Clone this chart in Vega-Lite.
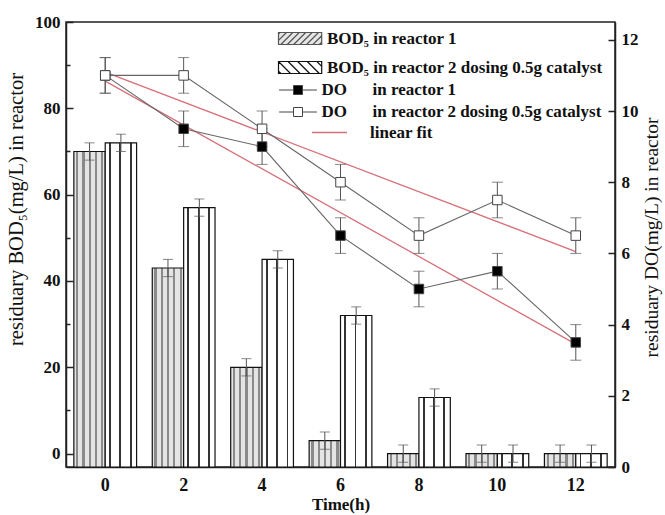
{
  "$schema": "https://vega.github.io/schema/vega-lite/v6.json",
  "width": 549,
  "height": 445,
  "autosize": "none",
  "padding": {"left": 66, "top": 22, "right": 50, "bottom": 48},
  "background": "white",
  "config": {
    "font": "Liberation Serif",
    "view": {"stroke": "#222", "strokeWidth": 1.5},
    "axis": {"labelFont": "Liberation Serif", "labelFontWeight": "bold", "labelFontSize": 17, "labelColor": "#111", "titleFont": "Liberation Serif", "titleFontSize": 17, "titleFontWeight": "normal", "titleColor": "#111", "domainColor": "#222", "domainWidth": 1.5, "tickColor": "#222", "tickWidth": 1.5, "grid": false},
    "legend": {"labelFont": "Liberation Serif", "labelFontSize": 17, "labelFontWeight": "bold", "labelColor": "#111", "padding": 0, "titlePadding": 0, "labelLimit": 400}
  },
  "datasets": {
    "bod": [
      {"t": 0, "s": "BOD₅ in reactor 1", "v": 70, "lo": 68, "hi": 72},
      {"t": 0, "s": "BOD₅ in reactor 2 dosing 0.5g catalyst", "v": 72, "lo": 70, "hi": 74},
      {"t": 2, "s": "BOD₅ in reactor 1", "v": 43, "lo": 41, "hi": 45},
      {"t": 2, "s": "BOD₅ in reactor 2 dosing 0.5g catalyst", "v": 57, "lo": 55, "hi": 59},
      {"t": 4, "s": "BOD₅ in reactor 1", "v": 20, "lo": 18, "hi": 22},
      {"t": 4, "s": "BOD₅ in reactor 2 dosing 0.5g catalyst", "v": 45, "lo": 43, "hi": 47},
      {"t": 6, "s": "BOD₅ in reactor 1", "v": 3, "lo": 1, "hi": 5},
      {"t": 6, "s": "BOD₅ in reactor 2 dosing 0.5g catalyst", "v": 32, "lo": 30, "hi": 34},
      {"t": 8, "s": "BOD₅ in reactor 1", "v": 0, "lo": -2, "hi": 2},
      {"t": 8, "s": "BOD₅ in reactor 2 dosing 0.5g catalyst", "v": 13, "lo": 11, "hi": 15},
      {"t": 10, "s": "BOD₅ in reactor 1", "v": 0, "lo": -2, "hi": 2},
      {"t": 10, "s": "BOD₅ in reactor 2 dosing 0.5g catalyst", "v": 0, "lo": -2, "hi": 2},
      {"t": 12, "s": "BOD₅ in reactor 1", "v": 0, "lo": -2, "hi": 2},
      {"t": 12, "s": "BOD₅ in reactor 2 dosing 0.5g catalyst", "v": 0, "lo": -2, "hi": 2}
    ],
    "do": [
      {"t": 0, "s": "DO\u00a0\u00a0\u00a0\u00a0\u00a0\u00a0in reactor 1", "d": 11, "lo": 10.5, "hi": 11.5},
      {"t": 2, "s": "DO\u00a0\u00a0\u00a0\u00a0\u00a0\u00a0in reactor 1", "d": 9.5, "lo": 9, "hi": 10},
      {"t": 4, "s": "DO\u00a0\u00a0\u00a0\u00a0\u00a0\u00a0in reactor 1", "d": 9, "lo": 8.5, "hi": 9.5},
      {"t": 6, "s": "DO\u00a0\u00a0\u00a0\u00a0\u00a0\u00a0in reactor 1", "d": 6.5, "lo": 6, "hi": 7},
      {"t": 8, "s": "DO\u00a0\u00a0\u00a0\u00a0\u00a0\u00a0in reactor 1", "d": 5, "lo": 4.5, "hi": 5.5},
      {"t": 10, "s": "DO\u00a0\u00a0\u00a0\u00a0\u00a0\u00a0in reactor 1", "d": 5.5, "lo": 5, "hi": 6},
      {"t": 12, "s": "DO\u00a0\u00a0\u00a0\u00a0\u00a0\u00a0in reactor 1", "d": 3.5, "lo": 3, "hi": 4},
      {"t": 0, "s": "DO\u00a0\u00a0\u00a0\u00a0\u00a0\u00a0in reactor 2 dosing 0.5g catalyst", "d": 11, "lo": 10.5, "hi": 11.5},
      {"t": 2, "s": "DO\u00a0\u00a0\u00a0\u00a0\u00a0\u00a0in reactor 2 dosing 0.5g catalyst", "d": 11, "lo": 10.5, "hi": 11.5},
      {"t": 4, "s": "DO\u00a0\u00a0\u00a0\u00a0\u00a0\u00a0in reactor 2 dosing 0.5g catalyst", "d": 9.5, "lo": 9, "hi": 10},
      {"t": 6, "s": "DO\u00a0\u00a0\u00a0\u00a0\u00a0\u00a0in reactor 2 dosing 0.5g catalyst", "d": 8, "lo": 7.5, "hi": 8.5},
      {"t": 8, "s": "DO\u00a0\u00a0\u00a0\u00a0\u00a0\u00a0in reactor 2 dosing 0.5g catalyst", "d": 6.5, "lo": 6, "hi": 7},
      {"t": 10, "s": "DO\u00a0\u00a0\u00a0\u00a0\u00a0\u00a0in reactor 2 dosing 0.5g catalyst", "d": 7.5, "lo": 7, "hi": 8},
      {"t": 12, "s": "DO\u00a0\u00a0\u00a0\u00a0\u00a0\u00a0in reactor 2 dosing 0.5g catalyst", "d": 6.5, "lo": 6, "hi": 7}
    ],
    "fit": [
      {"t": 0, "s": "r1", "f": 10.84, "k": "linear fit"},
      {"t": 12, "s": "r1", "f": 3.45, "k": "linear fit"},
      {"t": 0, "s": "r2", "f": 11.09, "k": "linear fit"},
      {"t": 12, "s": "r2", "f": 6.05, "k": "linear fit"}
    ]
  },
  "encoding": {
    "x": {
      "field": "t", "type": "ordinal",
      "scale": {"type": "band", "domain": [0, 2, 4, 6, 8, 10, 12], "paddingInner": 0.2, "paddingOuter": 0.1},
      "axis": {"orient": "bottom", "labelAngle": 0, "ticks": false, "labelPadding": 9, "labelFontSize": 18, "title": "Time(h)", "titleFontWeight": "bold", "titleFontSize": 17, "titlePadding": 2}
    }
  },
  "layer": [
    {
      "data": {"name": "bod"},
      "layer": [
        {
          "mark": {"type": "bar", "stroke": "#111", "strokeWidth": 1.2},
          "encoding": {
            "y": {
              "field": "v", "type": "quantitative",
              "scale": {"domain": [-3.1, 100], "nice": false, "zero": false},
              "axis": {
                "orient": "left",
                "values": [0, 10, 20, 30, 40, 50, 60, 70, 80, 90, 100],
                "labelExpr": "datum.value % 20 === 0 ? datum.label : ''",
                "tickSize": {"condition": {"test": "datum.value % 20 === 0", "value": -7}, "value": -4},
                "labelPadding": 13,
                "title": "residuary BOD₅(mg/L) in reactor",
                "titleFontSize": 20.5,
                "titleBaseline": "alphabetic",
                "titleX": -44,
                "titleY": 187
              }
            },
            "y2": {"datum": -3.1},
            "xOffset": {"field": "s", "type": "nominal", "scale": {"domain": ["BOD₅ in reactor 1", "BOD₅ in reactor 2 dosing 0.5g catalyst"], "paddingInner": 0, "paddingOuter": 0}},
            "fill": {
              "field": "s", "type": "nominal",
              "condition": [
                {"test": "datum.s === 'BOD₅ in reactor 1'", "value": {"gradient": "linear", "x1": 0, "y1": 0, "x2": 1, "y2": 0, "stops": [
                    {"offset": 0, "color": "#e4e4e4"}, {"offset": 0.07, "color": "#e4e4e4"},
                    {"offset": 0.07, "color": "#8a8a8a"}, {"offset": 0.14, "color": "#8a8a8a"},
                    {"offset": 0.14, "color": "#e4e4e4"}, {"offset": 0.27, "color": "#e4e4e4"},
                    {"offset": 0.27, "color": "#8a8a8a"}, {"offset": 0.34, "color": "#8a8a8a"},
                    {"offset": 0.34, "color": "#e4e4e4"}, {"offset": 0.47, "color": "#e4e4e4"},
                    {"offset": 0.47, "color": "#8a8a8a"}, {"offset": 0.54, "color": "#8a8a8a"},
                    {"offset": 0.54, "color": "#e4e4e4"}, {"offset": 0.67, "color": "#e4e4e4"},
                    {"offset": 0.67, "color": "#8a8a8a"}, {"offset": 0.74, "color": "#8a8a8a"},
                    {"offset": 0.74, "color": "#e4e4e4"}, {"offset": 0.87, "color": "#e4e4e4"},
                    {"offset": 0.87, "color": "#8a8a8a"}, {"offset": 0.94, "color": "#8a8a8a"},
                    {"offset": 0.94, "color": "#e4e4e4"}, {"offset": 1, "color": "#e4e4e4"}
                  ]}},
                {"test": "datum.s !== 'BOD₅ in reactor 1'", "value": {"gradient": "linear", "x1": 0, "y1": 0, "x2": 1, "y2": 0, "stops": [
                    {"offset": 0, "color": "#ffffff"}, {"offset": 0.12, "color": "#ffffff"},
                    {"offset": 0.12, "color": "#333333"}, {"offset": 0.18, "color": "#333333"},
                    {"offset": 0.18, "color": "#ffffff"}, {"offset": 0.45, "color": "#ffffff"},
                    {"offset": 0.45, "color": "#333333"}, {"offset": 0.51, "color": "#333333"},
                    {"offset": 0.51, "color": "#ffffff"}, {"offset": 0.78, "color": "#ffffff"},
                    {"offset": 0.78, "color": "#333333"}, {"offset": 0.84, "color": "#333333"},
                    {"offset": 0.84, "color": "#ffffff"}, {"offset": 1, "color": "#ffffff"}
                  ]}}
              ],
              "scale": {
                "domain": ["BOD₅ in reactor 1", "BOD₅ in reactor 2 dosing 0.5g catalyst"],
                "range": ["#e6e6e6", "#ffffff"]
              },
              "legend": {
                "orient": "none", "legendX": 225.6, "legendY": 8, "title": null,
                "symbolType": "M-3.6,-1H3.6V1H-3.6Z", "symbolSize": 144, "symbolStrokeColor": "#111", "symbolStrokeWidth": 1.2, "labelOffset": 18.4, "rowPadding": 11,
                "encode": {"symbols": {"update": {
                  "stroke": [
                    {"test": "datum.value === 'BOD₅ in reactor 1'", "value": "#555555"},
                    {"value": "#111111"}
                  ],
                  "strokeWidth": {"value": 1.2},
                  "opacity": {"value": 1},
                  "fillOpacity": {"value": 1},
                  "fill": [
                    {"test": "datum.value === 'BOD₅ in reactor 1'", "value": "#e6e6e6"},
                    {"value": "#ffffff"}
                  ],
                  "shape": [
                    {"test": "datum.value === 'BOD₅ in reactor 1'", "value": "M-3.6,-1H3.6V1H-3.6Z M-3.6,-0.75L-3.35,-1 M-3.6,0.32L-2.28,-1 M-3.21,1L-1.21,-1 M-2.14,1L-0.14,-1 M-1.07,1L0.93,-1 M0,1L2,-1 M1.07,1L3.07,-1 M2.14,1L3.6,-0.46 M3.21,1L3.6,0.61"},
                    {"value": "M-3.6,-1H3.6V1H-3.6Z M-3.6,0.6L-3.2,1 M-3.6,-1L-1.6,1 M-2,-1L0,1 M-0.4,-1L1.6,1 M1.2,-1L3.2,1 M2.8,-1L3.6,-0.2"}
                  ]
                }}}
              }
            }
          }
        },
        {
          "mark": {"type": "rule", "color": "#555", "strokeWidth": 1},
          "encoding": {
            "y": {"field": "lo", "type": "quantitative"},
            "y2": {"field": "hi"},
            "xOffset": {"field": "s", "type": "nominal"}
          }
        },
        {
          "mark": {"type": "tick", "orient": "horizontal", "size": 10, "thickness": 1, "color": "#555"},
          "encoding": {
            "y": {"field": "lo", "type": "quantitative"},
            "xOffset": {"field": "s", "type": "nominal"}
          }
        },
        {
          "mark": {"type": "tick", "orient": "horizontal", "size": 10, "thickness": 1, "color": "#555"},
          "encoding": {
            "y": {"field": "hi", "type": "quantitative"},
            "xOffset": {"field": "s", "type": "nominal"}
          }
        }
      ]
    },
    {
      "layer": [
        {
          "data": {"name": "fit"},
          "mark": {"type": "line", "strokeWidth": 1.3},
          "encoding": {
            "y": {
              "field": "f", "type": "quantitative",
              "scale": {"domain": [0, 12.5], "nice": false, "zero": false},
              "axis": {
                "orient": "right",
                "values": [0, 1, 2, 3, 4, 5, 6, 7, 8, 9, 10, 11, 12],
                "labelExpr": "datum.value % 2 === 0 ? datum.label : ''",
                "tickSize": {"condition": {"test": "datum.value % 2 === 0", "value": -7}, "value": -4},
                "labelPadding": 13,
                "title": "residuary DO(mg/L) in reactor",
                "titleFontSize": 19.5,
                "titleAngle": 270,
                "titleBaseline": "alphabetic",
                "titleX": 42,
                "titleY": 215
              }
            },
            "detail": {"field": "s", "type": "nominal"},
            "stroke": {
              "field": "k", "type": "nominal",
              "scale": {"domain": ["linear fit"], "range": ["#d7707a"]},
              "legend": {"orient": "none", "legendX": 245, "legendY": 92, "title": null, "symbolType": "stroke", "symbolSize": 1225, "symbolStrokeWidth": 1.5, "labelOffset": 22}
            }
          }
        },
        {
          "data": {"name": "do"},
          "layer": [
            {
              "mark": {"type": "line", "color": "#666", "strokeWidth": 1.1},
              "encoding": {
                "y": {"field": "d", "type": "quantitative"},
                "detail": {"field": "s", "type": "nominal"}
              }
            },
            {
              "mark": {"type": "rule", "color": "#555", "strokeWidth": 1},
              "encoding": {
                "y": {"field": "lo", "type": "quantitative"},
                "y2": {"field": "hi"}
              }
            },
            {
              "mark": {"type": "tick", "orient": "horizontal", "size": 11, "thickness": 1, "color": "#555"},
              "encoding": {"y": {"field": "lo", "type": "quantitative"}}
            },
            {
              "mark": {"type": "tick", "orient": "horizontal", "size": 11, "thickness": 1, "color": "#555"},
              "encoding": {"y": {"field": "hi", "type": "quantitative"}}
            },
            {
              "mark": {"type": "point", "shape": "square", "size": 90, "filled": true, "stroke": "#444", "strokeWidth": 1, "opacity": 1},
              "encoding": {
                "y": {"field": "d", "type": "quantitative"},
                "fill": {
                  "field": "s", "type": "nominal",
                  "scale": {"domain": ["DO\u00a0\u00a0\u00a0\u00a0\u00a0\u00a0in reactor 1", "DO\u00a0\u00a0\u00a0\u00a0\u00a0\u00a0in reactor 2 dosing 0.5g catalyst"], "range": ["#000000", "#ffffff"]},
                  "legend": {"orient": "none", "legendX": 223.5, "legendY": 59.5, "title": null, "symbolType": "M-4.2,0H-1M1,0H4.2M-1,-1H1V1H-1Z", "symbolSize": 81, "symbolStrokeColor": "#444", "symbolStrokeWidth": 1, "labelOffset": 15, "rowPadding": 4}
                }
              }
            }
          ]
        }
      ]
    }
  ],
  "resolve": {"scale": {"y": "independent", "fill": "independent"}}
}
